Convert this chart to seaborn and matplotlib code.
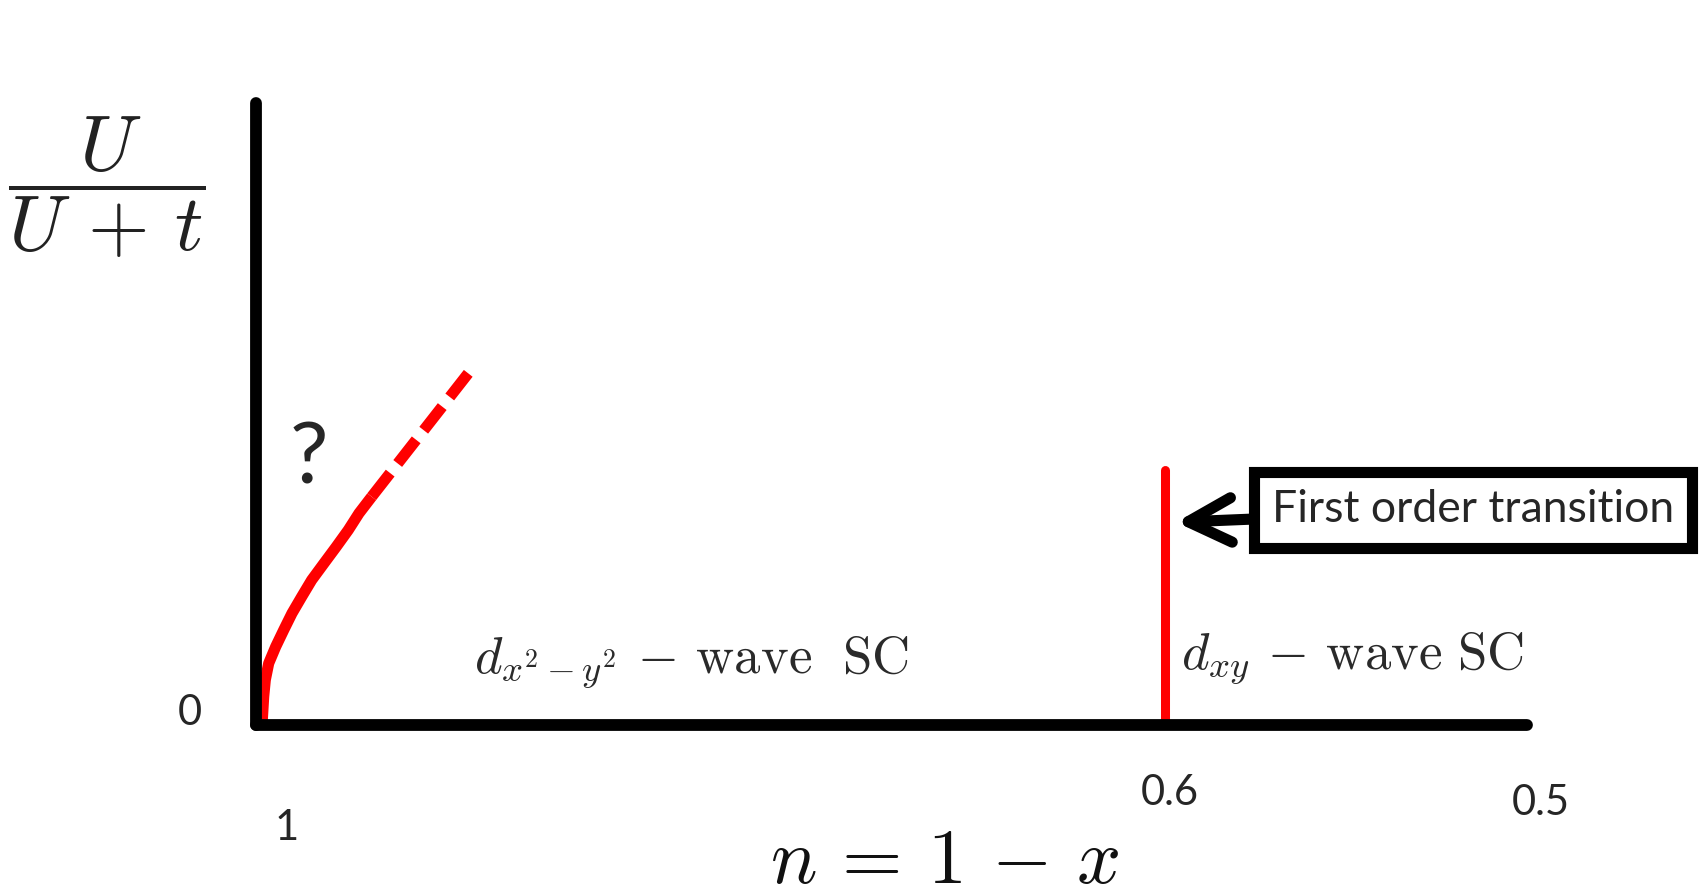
import numpy as np
import pandas as pd
import matplotlib
matplotlib.use("Agg")
import matplotlib.pyplot as plt
import seaborn as sns

# schematic phase boundary, x is n (1 -> 0.5), y is U/(U+t) scaled 0..1
n_solid = [0.9978, 0.99752, 0.99697, 0.99634, 0.99500, 0.99225, 0.98910, 0.98584,
           0.98202, 0.97809, 0.97325, 0.96841, 0.96369, 0.95948, 0.95449]
u_solid = [0.0, 0.0080, 0.0455, 0.0723, 0.0992, 0.1259, 0.1527, 0.1796,
           0.2063, 0.2331, 0.2600, 0.2867, 0.3135, 0.3404, 0.3670]
n_dashed = [0.95449, 0.9165]
u_dashed = [0.3670, 0.5654]

n_transition = [0.6424, 0.6424]
u_transition = [0.0, 0.41]

tick_labels = ["0", "1", "0.6", "0.5"]
ylabel = r"$\dfrac{U}{U\,+\,t}$"
xlabel = r"$n\,=\,1\,-\,x$"
phase_left = r"$d_{x^2-y^2}\,-\,\mathrm{wave}\ \ \mathrm{SC}$"
phase_right = r"$d_{xy}\,-\,\mathrm{wave}\ \mathrm{SC}$"
note = "First order transition"

sns.set_style("white")
plt.rcParams["font.family"] = ["Lato", "DejaVu Sans"]
plt.rcParams["mathtext.fontset"] = "cm"

W, H = 1700, 894
fig = plt.figure(figsize=(17, 8.94), dpi=100)
ax = fig.add_axes([256 / W, 1 - 725 / H, (1527 - 256) / W, (725 - 103) / H])

df_solid = pd.DataFrame({"n": n_solid, "u": u_solid})
df_dash = pd.DataFrame({"n": n_dashed, "u": u_dashed})
sns.lineplot(data=df_solid, x="n", y="u", color="red", lw=8, sort=False,
             estimator=None, ax=ax, solid_capstyle="butt", solid_joinstyle="round")
sns.lineplot(data=df_dash, x="n", y="u", color="red", lw=8, sort=False,
             estimator=None, ax=ax, linestyle=(0, (2.7, 1.1)))
sns.lineplot(x=n_transition, y=u_transition, color="red", lw=6.5, sort=False,
             estimator=None, ax=ax)

ax.set_xlim(1.0, 0.5)
ax.set_ylim(0, 1)
ax.set_xticks([])
ax.set_yticks([])
ax.set_xlabel("")
ax.set_ylabel("")
for s in ["top", "right"]:
    ax.spines[s].set_visible(False)
for s in ["left", "bottom"]:
    ax.spines[s].set_linewidth(8.5)
    ax.spines[s].set_color("black")
    ax.spines[s].set_capstyle("round")
    ax.spines[s].set_zorder(3)

def px(x, y):
    return x / W, 1 - y / H

# tick-like labels, staggered as in the slide
fig.text(*px(190, 713), tick_labels[0], fontsize=30, ha="center", va="center")
fig.text(*px(287, 828), tick_labels[1], fontsize=30, ha="center", va="center")
fig.text(*px(1170, 793), tick_labels[2], fontsize=30, ha="center", va="center")
fig.text(*px(1541, 803), tick_labels[3], fontsize=30, ha="center", va="center")

fig.text(*px(107, 187), ylabel, fontsize=57, ha="center", va="center", color="#222222")
fig.text(*px(945, 883), xlabel, fontsize=56, ha="center", va="baseline", color="#111111")

fig.text(*px(309, 460), "?", fontsize=62, ha="center", va="center")

fig.text(*px(474, 673), phase_left, fontsize=38, ha="left", va="baseline", color="#2a2a2a")
fig.text(*px(1181, 669), phase_right, fontsize=38, ha="left", va="baseline", color="#2a2a2a")

ax.annotate(note, xy=(0.638, 0.326), xycoords="data",
            xytext=px(1473, 510), textcoords="figure fraction",
            fontsize=32, ha="center", va="center",
            bbox=dict(boxstyle="square,pad=0.4", fc="white", ec="black", lw=8),
            arrowprops=dict(arrowstyle="->,head_length=1.55,head_width=0.8",
                            lw=8, color="black", mutation_scale=20,
                            shrinkA=0, shrinkB=0, capstyle="round",
                            joinstyle="round"))

fig.savefig("out.png", dpi=100)
